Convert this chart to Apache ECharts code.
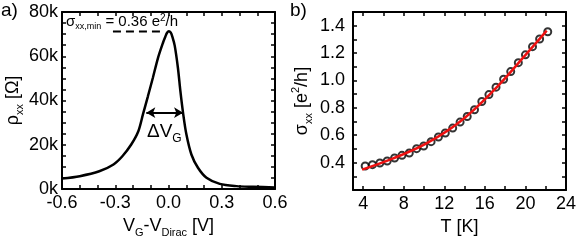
<!DOCTYPE html>
<html>
<head>
<meta charset="utf-8">
<script src="https://cdn.jsdelivr.net/npm/echarts@6/dist/echarts.min.js"></script>
<style>
html,body{margin:0;padding:0;background:#fff;}
#c{width:581px;height:243px;}
</style>
</head>
<body>
<div id="c"></div>
<script>
// Panel a: rho_xx vs V_G - V_Dirac (kOhm)
const vG  = [-0.6, -0.5, -0.39, -0.31, -0.26, -0.21, -0.17, -0.144, -0.116, -0.088, -0.059, -0.031, -0.018, -0.008, 0.002, 0.012, 0.022, 0.035, 0.053, 0.067, 0.082, 0.101, 0.129, 0.166, 0.214, 0.289, 0.383, 0.477, 0.6];
const rho = [4.7, 5.8, 8.0, 11.1, 14.8, 20.1, 26.1, 33.7, 41.9, 50.3, 59.3, 66.1, 68.8, 70.6, 71.3, 70.8, 68.8, 64.8, 54.8, 44.2, 34.4, 24.6, 15.6, 9.6, 5.1, 2.3, 1.3, 1.0, 0.7];
const dashV = [-0.313, -0.04];
const dashRho = [71.2, 71.2];
const arrowV = [-0.125, 0.082];
const arrowRho = 34.5;
const aXTicks = [-0.6,-0.5,-0.4,-0.3,-0.2,-0.1,0,0.1,0.2,0.3,0.4,0.5,0.6];
const aXLabels = [-0.6,-0.3,0,0.3,0.6];
const aYTicks = [0,5,10,15,20,25,30,35,40,45,50,55,60,65,70,75,80];
const aYLabels = [0,20,40,60,80];

// Panel b: sigma_xx vs T
const T     = [4.2, 4.92, 5.65, 6.37, 7.1, 7.83, 8.55, 9.27, 9.97, 10.7, 11.42, 12.1, 12.83, 13.56, 14.26, 14.98, 15.7, 16.4, 17.1, 17.85, 18.55, 19.3, 20.0, 20.7, 21.4, 22.2];
const sigma = [0.375, 0.385, 0.397, 0.412, 0.434, 0.453, 0.470, 0.502, 0.521, 0.553, 0.587, 0.616, 0.652, 0.696, 0.737, 0.786, 0.846, 0.897, 0.951, 1.009, 1.065, 1.130, 1.187, 1.247, 1.303, 1.356];
const fitT     = [3.9, 6.9, 10.2, 13.5, 16.8, 20.1, 22.1];
const fitSigma = [0.349, 0.429, 0.538, 0.696, 0.922, 1.194, 1.364];
const bXTicks = [4,6,8,10,12,14,16,18,20,22,24];
const bXLabels = [4,8,12,16,20,24];
const bYTicks = [0.3,0.4,0.5,0.6,0.7,0.8,0.9,1.0,1.1,1.2,1.3,1.4];
const bYLabels = [0.4,0.6,0.8,1.0,1.2,1.4];

const FONT = 'Liberation Sans';
const FS = 18;
const chart = echarts.init(document.getElementById('c'));

function axisCommon(ticks, labels, fmt, show, margin) {
  return {
    type: 'value',
    axisLine: {show: true, onZero: false, lineStyle: {color: '#000', width: 2}},
    axisTick: {show: true, inside: true, length: 4, customValues: ticks, lineStyle: {color: '#000', width: 1.5}},
    axisLabel: {show: show, customValues: labels, formatter: fmt, color: '#000', fontSize: FS, fontFamily: FONT, margin: margin},
    splitLine: {show: false},
    minorTick: {show: false}
  };
}
const subRich = {
  s: {fontSize: 11, fontFamily: FONT, color: '#000', verticalAlign: 'bottom', lineHeight: 11},
  p: {fontSize: 11, fontFamily: FONT, color: '#000', verticalAlign: 'top', lineHeight: 16},
  m: {fontSize: FS, fontFamily: FONT, color: '#000', lineHeight: 24}
};

const fa = v => v.toFixed(1);
const fk = v => v + 'k';

const option = {
  animation: false,
  backgroundColor: '#fff',
  textStyle: {fontFamily: FONT},
  grid: [
    {left: 62, top: 12, width: 213, height: 178},
    {left: 353, top: 12, width: 213, height: 178}
  ],
  xAxis: [
    Object.assign(axisCommon(aXTicks, aXLabels, fa, true, 5), {gridIndex: 0, min: -0.6, max: 0.6, position: 'bottom',
      name: '{m|V}{s|G}{m|-V}{s|Dirac}{m| [V]}', nameLocation: 'middle', nameGap: 25,
      nameTextStyle: {rich: subRich}}),
    Object.assign(axisCommon(aXTicks, aXLabels, fa, false, 5), {gridIndex: 0, min: -0.6, max: 0.6, position: 'top'}),
    Object.assign(axisCommon(bXTicks, bXLabels, v => String(v), true, 5), {gridIndex: 1, min: 3, max: 24, position: 'bottom',
      name: 'T [K]', nameLocation: 'middle', nameGap: 22,
      nameTextStyle: {fontSize: FS, color: '#000', fontFamily: FONT}}),
    Object.assign(axisCommon(bXTicks, bXLabels, v => String(v), false, 5), {gridIndex: 1, min: 3, max: 24, position: 'top'})
  ],
  yAxis: [
    Object.assign(axisCommon(aYTicks, aYLabels, fk, true, 4), {gridIndex: 0, min: 0, max: 80, position: 'left',
      name: '{m|ρ}{s|xx}{m| [Ω]}', nameLocation: 'middle', nameGap: 36, nameRotate: 90,
      nameTextStyle: {rich: subRich}}),
    Object.assign(axisCommon(aYTicks, aYLabels, fk, false, 4), {gridIndex: 0, min: 0, max: 80, position: 'right'}),
    Object.assign(axisCommon(bYTicks, bYLabels, fa, true, 8), {gridIndex: 1, min: 0.2, max: 1.5, position: 'left',
      name: '{m|σ}{s|xx}{m| [e}{p|2}{m|/h]}', nameLocation: 'middle', nameGap: 39, nameRotate: 90,
      nameTextStyle: {rich: subRich}}),
    Object.assign(axisCommon(bYTicks, bYLabels, fa, false, 8), {gridIndex: 1, min: 0.2, max: 1.5, position: 'right'})
  ],
  series: [
    {
      type: 'line', xAxisIndex: 0, yAxisIndex: 0,
      data: vG.map((v, i) => [v, rho[i]]),
      showSymbol: false, smooth: 0.3,
      lineStyle: {color: '#000', width: 2.5}
    },
    {
      type: 'line', xAxisIndex: 0, yAxisIndex: 0,
      data: dashV.map((v, i) => [v, dashRho[i]]),
      showSymbol: false,
      lineStyle: {color: '#000', width: 2, type: [8, 5]},
      markLine: {
        silent: true, symbol: ['arrow', 'arrow'], symbolSize: [8, 9],
        label: {show: false},
        lineStyle: {color: '#000', width: 1.8, type: 'solid'},
        data: [[{coord: [arrowV[0], arrowRho]}, {coord: [arrowV[1], arrowRho]}]]
      }
    },
    {
      type: 'scatter', xAxisIndex: 2, yAxisIndex: 2,
      data: T.map((t, i) => [t, sigma[i]]),
      symbol: 'emptyCircle', symbolSize: 7,
      itemStyle: {color: '#000', borderColor: '#000', borderWidth: 2}
    },
    {
      type: 'line', xAxisIndex: 2, yAxisIndex: 2,
      data: fitT.map((t, i) => [t, fitSigma[i]]),
      showSymbol: false, smooth: 0.4,
      lineStyle: {color: '#ee1111', width: 2.5}
    }
  ],
  graphic: [
    {type: 'text', left: 1, top: 1, style: {text: 'a)', font: '19px "Liberation Sans"', fill: '#000'}},
    {type: 'text', left: 290, top: 1, style: {text: 'b)', font: '19px "Liberation Sans"', fill: '#000'}},
    {type: 'text', left: 66, top: 13, style: {
      text: '{m|σ}{s|xx,min}{m| = 0.36 e}{p|2}{m|/h}', fill: '#000',
      rich: {
        m: {fontSize: 15, fontFamily: FONT, lineHeight: 18},
        s: {fontSize: 9, fontFamily: FONT, verticalAlign: 'bottom', lineHeight: 9},
        p: {fontSize: 10, fontFamily: FONT, verticalAlign: 'top', lineHeight: 12}
      }}},
    {type: 'text', left: 147, top: 122, style: {
      text: '{m|ΔV}{s|G}', fill: '#000',
      rich: {
        m: {fontSize: 19, fontFamily: FONT, lineHeight: 26},
        s: {fontSize: 12, fontFamily: FONT, verticalAlign: 'bottom', lineHeight: 12}
      }}}
  ]
};
chart.setOption(option);
</script>
</body>
</html>
